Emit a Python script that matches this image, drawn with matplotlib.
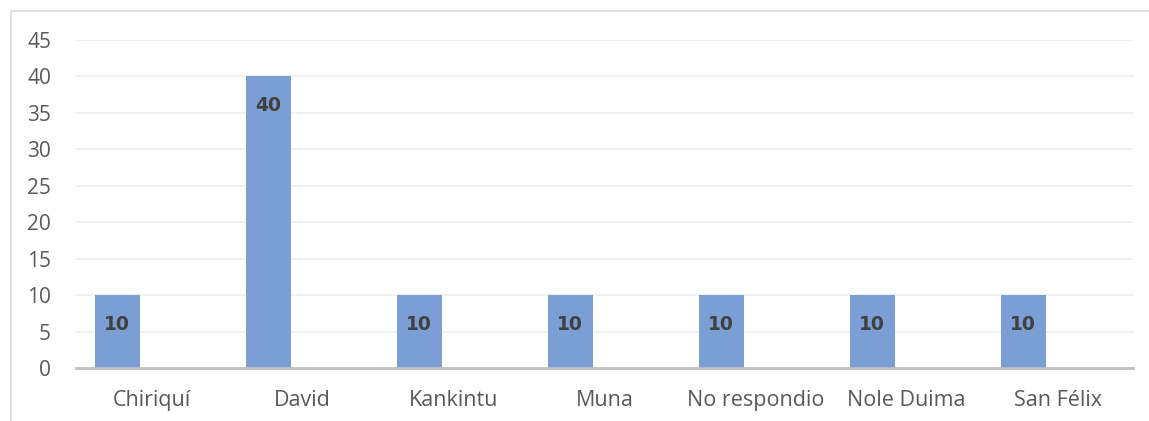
import matplotlib
matplotlib.use("Agg")
import matplotlib.pyplot as plt
from matplotlib.patches import Rectangle
import numpy as np

categories = ["Chiriquí", "David", "Kankintu", "Muna", "No respondio", "Nole Duima", "San Félix"]
values = [10, 40, 10, 10, 10, 10, 10]
yticks = [0, 5, 10, 15, 20, 25, 30, 35, 40, 45]

W, H = 1149, 421
fig = plt.figure(figsize=(W / 100, H / 100), dpi=100)
plt.rcParams['font.family'] = ['Open Sans', 'DejaVu Sans']

# outer chart border (top and left visible)
fig.patches.append(Rectangle((10.5 / W, -0.02), (W + 20) / W, (H - 10.5) / H + 0.02,
                             transform=fig.transFigure, fill=False,
                             edgecolor="#D9D9D9", linewidth=1.2))

ax = fig.add_axes([76 / W, 1 - 368 / H, (1133 - 76) / W, (368 - 40) / H])
x = np.arange(len(categories))
ax.bar(x - 0.228, values, width=0.298, color="#7B9FD5", zorder=3)

for xi, v in zip(x, values):
    ax.annotate(str(v), (xi - 0.228, v), xytext=(0, -21), textcoords="offset points",
                ha="center", va="center", fontsize=13.5, fontweight="bold",
                family=["DejaVu Sans"], color="#404040", zorder=4)

ax.set_xlim(-0.5, len(categories) - 0.5)
ax.set_ylim(0, 45)
ax.set_yticks(yticks)
ax.set_yticklabels([str(t) for t in yticks])
ax.set_xticks(x)
ax.set_xticklabels(categories)
ax.grid(axis="y", color="#EFEFEF", linewidth=1.2, zorder=0)
for s in ["top", "right", "left"]:
    ax.spines[s].set_visible(False)
ax.spines["bottom"].set_color("#BFBFBF")
ax.spines["bottom"].set_linewidth(2)
ax.spines["bottom"].set_zorder(5)
ax.tick_params(axis="both", length=0, colors="#595959")
ax.tick_params(axis="y", pad=18, labelsize=15)
ax.tick_params(axis="x", pad=16, labelsize=15.5)

fig.savefig("out.png", dpi=100)
